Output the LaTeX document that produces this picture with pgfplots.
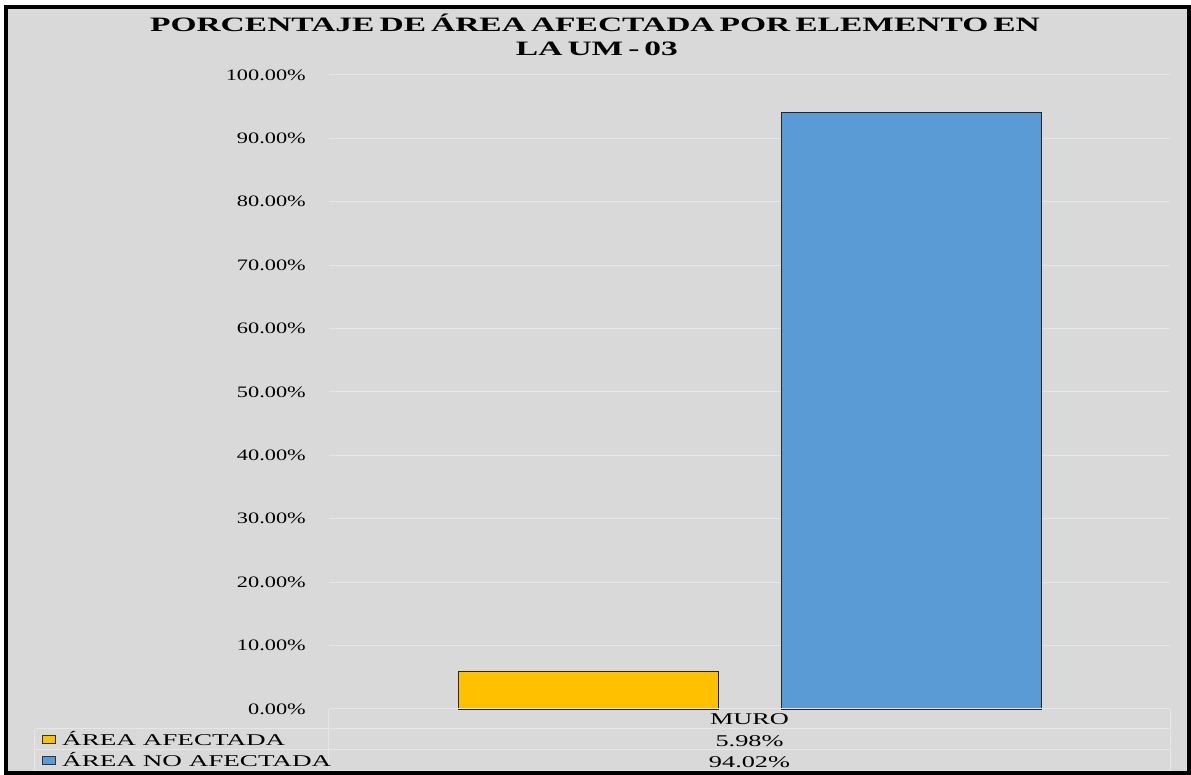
\documentclass[border=0pt]{standalone}
\usepackage{fontspec}
\setmainfont{Liberation Serif}
\usepackage{pgfplots}
\pgfplotsset{compat=1.18}
\usepackage{graphicx}

\definecolor{bg}{HTML}{D9D9D9}
\definecolor{gridc}{HTML}{E6E6E8}
\definecolor{yel}{HTML}{FFC000}
\definecolor{blu}{HTML}{5B9BD5}

\newcommand\sx[2]{\scalebox{#1}[1]{#2}}
\newcommand\tightsp{\spaceskip=0.15em\relax}

\begin{document}
\begin{tikzpicture}[x=1bp,y=1bp]
% page and chart area
\fill[white] (-329,-66) rectangle (862,709);
\fill[bg] (-323,-64) rectangle (860,702);

% title
\begin{scope}[font=\bfseries\fontsize{20.5}{21}\selectfont, inner sep=0pt]
\node[anchor=base] at (266,677) {\sx{1.64}{\tightsp PORCENTAJE DE ÁREA AFECTADA POR ELEMENTO EN}};
\node[anchor=base] at (268,653) {\sx{1.64}{\tightsp LA UM - 03}};
\end{scope}

\begin{axis}[
  at={(0,0)}, anchor=south west,
  scale only axis, width=841bp, height=634bp,
  xmin=0, xmax=1, ymin=0, ymax=100,
  ybar=63bp, bar width=260bp,
  xtick=\empty, ytick={0,10,...,100},
  ymajorgrids, grid style={draw=gridc, line width=1bp},
  axis line style={draw=none},
  major tick length=0pt,
  /pgf/number format/assume math mode=true,
  yticklabel={\sx{1.4}{\pgfmathprintnumber[fixed,fixed zerofill,precision=2]{\tick}\%}},
  yticklabel style={font=\fontsize{16}{16}\selectfont, anchor=east, inner sep=0pt, xshift=-23bp},
  clip=false,
]
\addplot[fill=yel, draw=black!85, line width=0.8bp] coordinates {(0.5,5.98)};
\addplot[fill=blu, draw=black!85, line width=0.8bp] coordinates {(0.5,94.02)};
\end{axis}

% data table
\begin{scope}[draw=gridc, line width=1bp]
\draw (0,0) -- (841,0);
\draw (-294,-20) -- (841,-20);
\draw (-294,-41) -- (841,-41);
\draw (-294,-62) -- (841,-62);
\draw (-294,-20) -- (-294,-62);
\draw (0,0) -- (0,-62);
\draw (841,0) -- (841,-62);
\end{scope}
\begin{scope}[font=\fontsize{16.5}{16.5}\selectfont, inner sep=0pt]
\node[anchor=base] at (420.5,-16) {\sx{1.6}{MURO}};
\node[anchor=base] at (420.5,-38) {\sx{1.6}{5.98\%}};
\node[anchor=base] at (420.5,-59) {\sx{1.6}{94.02\%}};
\fill[yel, draw=black!80, line width=0.8bp] (-287,-34.5) rectangle (-274,-26.5);
\fill[blu, draw=black!80, line width=0.8bp] (-287,-55.5) rectangle (-274,-47.5);
\node[anchor=base west] at (-267,-37) {\sx{1.65}{ÁREA AFECTADA}};
\node[anchor=base west] at (-267,-58) {\sx{1.65}{ÁREA NO AFECTADA}};
\end{scope}

% outer frame
\draw[black, line width=4bp] (-323,-64) rectangle (860,702);
\end{tikzpicture}
\end{document}
